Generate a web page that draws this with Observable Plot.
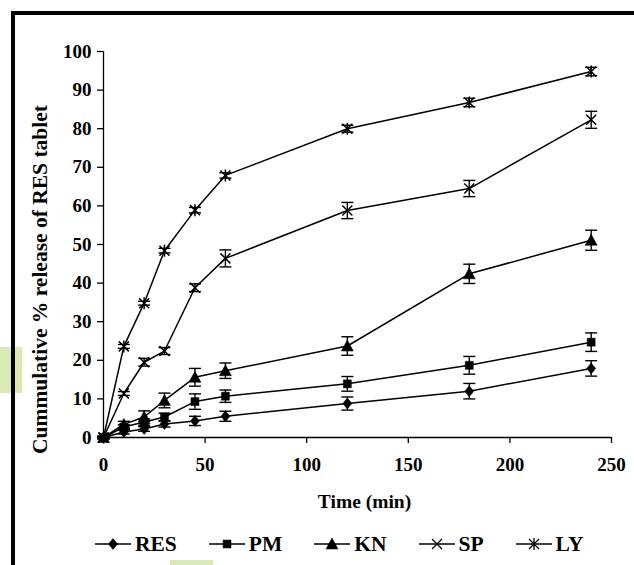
<!DOCTYPE html>
<html><head><meta charset="utf-8">
<script src="https://cdn.jsdelivr.net/npm/d3@7"></script>
<script src="https://cdn.jsdelivr.net/npm/@observablehq/plot@0.6"></script>
<style>
html,body{margin:0;padding:0;background:#fff;}
#wrap{position:relative;width:634px;height:565px;overflow:hidden;background:#fff;font-family:"Liberation Serif","Times New Roman",serif;font-weight:bold;color:#000;}
#chart{position:absolute;left:0;top:0;}
.frameL{position:absolute;left:11px;top:11px;width:4px;height:560px;background:#000;}
.frameT{position:absolute;left:11px;top:11px;width:630px;height:4px;background:#000;}
.wm{position:absolute;background:#d9eab4;}
#legend{position:absolute;left:95px;top:530px;height:28px;display:flex;align-items:center;gap:32px;font-size:21.5px;line-height:28px;}
.item{display:flex;align-items:center;gap:4px;}
.item svg{display:block;}
</style></head><body>
<div id="wrap">
  <div class="wm" style="left:0;top:347px;width:22px;height:46px;"></div>
  <div class="wm" style="left:170px;top:560px;width:43px;height:8px;"></div>
  <div id="chart"></div>
  <div class="frameL"></div>
  <div class="frameT"></div>
  <div id="legend"></div>
</div>
<script>
// ---- data ----
const time = [0, 10, 20, 30, 45, 60, 120, 180, 240];
const seriesNames = ["RES", "PM", "KN", "SP", "LY"];
const RES = [0, 1.4, 2.2, 3.5, 4.3, 5.5, 8.8, 12.0, 17.9];
const PM  = [0, 2.7, 4.0, 5.3, 9.3, 10.7, 13.9, 18.7, 24.7];
const KN  = [0, 3.4, 5.3, 9.6, 15.6, 17.3, 23.7, 42.4, 51.1];
const SP  = [0, 11.4, 19.5, 22.4, 38.8, 46.4, 58.8, 64.5, 82.3];
const LY  = [0, 23.6, 34.8, 48.4, 58.9, 67.9, 80.0, 86.8, 94.8];
const RES_err = [0.3, 0.5, 0.6, 0.8, 1.2, 1.3, 1.7, 2.0, 2.0];
const PM_err  = [0.3, 0.6, 0.8, 1.0, 2.0, 1.6, 1.9, 2.3, 2.4];
const KN_err  = [0.3, 0.8, 1.6, 1.9, 2.3, 2.0, 2.4, 2.5, 2.6];
const SP_err  = [0.3, 0.5, 1.0, 0.9, 1.0, 2.2, 2.1, 2.1, 2.2];
const LY_err  = [0.3, 0.5, 0.5, 0.6, 0.7, 0.7, 0.9, 1.1, 1.1];
const xTicks = [0, 50, 100, 150, 200, 250];
const yTicks = [0, 10, 20, 30, 40, 50, 60, 70, 80, 90, 100];
const xLabel = "Time (min)";
const yLabel = "Cummulative % release of RES tablet";

// ---- marker symbols (Excel-like) ----
const symDiamond = {draw(c){c.moveTo(0,-5.5);c.lineTo(4.5,0);c.lineTo(0,5.5);c.lineTo(-4.5,0);c.closePath();}};
const symSquare = {draw(c){c.rect(-4,-4,8,8);}};
const symTriangle = {draw(c){c.moveTo(0,-6);c.lineTo(6,5);c.lineTo(-6,5);c.closePath();}};
const symX = {draw(c){c.moveTo(-5,-5);c.lineTo(5,5);c.moveTo(-5,5);c.lineTo(5,-5);}};
const symStar = {draw(c){c.moveTo(-5,-5);c.lineTo(5,5);c.moveTo(-5,5);c.lineTo(5,-5);c.moveTo(0,-6);c.lineTo(0,6);}};
const symCap = {draw(c){c.moveTo(-6,0);c.lineTo(6,0);}};

const seriesDefs = [
  {name: "RES", values: RES, err: RES_err, symbol: symDiamond, filled: true},
  {name: "PM",  values: PM,  err: PM_err,  symbol: symSquare, filled: true},
  {name: "KN",  values: KN,  err: KN_err,  symbol: symTriangle, filled: true},
  {name: "SP",  values: SP,  err: SP_err,  symbol: symX, filled: false},
  {name: "LY",  values: LY,  err: LY_err,  symbol: symStar, filled: false}
];

const rows = seriesDefs.flatMap(s => time.map((t, i) => ({series: s.name, t, v: s.values[i], lo: s.values[i] - s.err[i], hi: s.values[i] + s.err[i]})));

const marks = [
  Plot.ruleX([0], {stroke: "#000", strokeWidth: 1.3}),
  Plot.ruleY([0], {stroke: "#000", strokeWidth: 1.3}),
  Plot.axisX({ticks: xTicks, tickSize: 6, tickPadding: 14, fontSize: 19, label: null, strokeWidth: 1.3}),
  Plot.axisY({ticks: yTicks, tickSize: 6, tickPadding: 6, fontSize: 19, label: null, strokeWidth: 1.3}),
  Plot.line(rows, {x: "t", y: "v", z: "series", stroke: "#000", strokeWidth: 1.5}),
  Plot.ruleX(rows, {x: "t", y1: "lo", y2: "hi", stroke: "#000", strokeWidth: 1.4}),
  Plot.dot(rows, {x: "t", y: "lo", symbol: symCap, stroke: "#000", strokeWidth: 1.4}),
  Plot.dot(rows, {x: "t", y: "hi", symbol: symCap, stroke: "#000", strokeWidth: 1.4}),
  ...seriesDefs.map(s => Plot.dot(rows.filter(d => d.series === s.name), {
    x: "t", y: "v", symbol: s.symbol,
    fill: s.filled ? "#000" : "none", stroke: "#000", strokeWidth: s.filled ? 0.5 : 1.5
  })),
  Plot.text([xLabel], {frameAnchor: "bottom", dx: 7, dy: 70, fontSize: 19.5, fontWeight: "bold"}),
  Plot.text([yLabel], {frameAnchor: "left", textAnchor: "middle", dx: -63, dy: 35, rotate: -90, fontSize: 21.5, fontWeight: "bold"})
];

const chart = Plot.plot({
  width: 634,
  height: 525,
  marginLeft: 103,
  marginRight: 23,
  marginTop: 51,
  marginBottom: 88,
  x: {domain: [0, 250]},
  y: {domain: [0, 100]},
  style: {fontFamily: "'Liberation Serif', 'Times New Roman', serif", fontWeight: "bold", color: "#000", background: "transparent", overflow: "visible"},
  marks
});
document.getElementById("chart").appendChild(chart);

// ---- legend ----
const legend = d3.select("#legend");
seriesDefs.forEach(s => {
  const item = legend.append("div").attr("class", "item");
  const svg = item.append("svg").attr("width", 36).attr("height", 20);
  svg.append("line").attr("x1", 0).attr("x2", 36).attr("y1", 10).attr("y2", 10).attr("stroke", "#000").attr("stroke-width", 1.5);
  svg.append("path").attr("transform", "translate(18,10)")
    .attr("d", d3.symbol().type(s.symbol)())
    .attr("fill", s.filled ? "#000" : "none").attr("stroke", "#000").attr("stroke-width", s.filled ? 0.5 : 1.3);
  item.append("span").text(s.name);
});
</script>
</body></html>
